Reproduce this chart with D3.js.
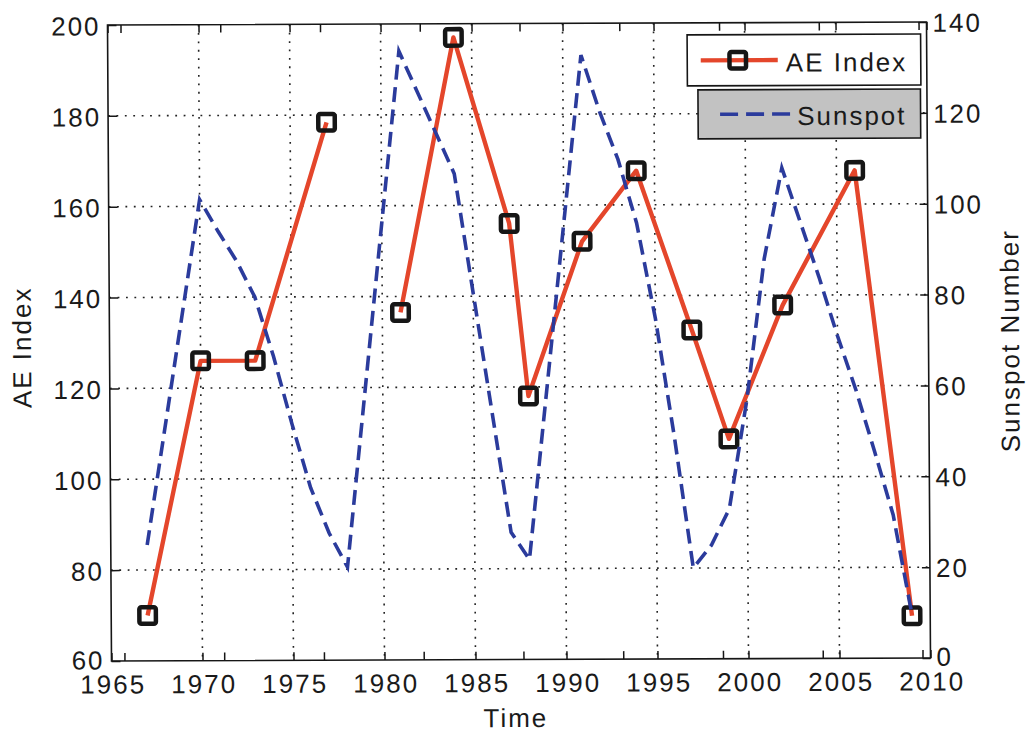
<!DOCTYPE html>
<html>
<head>
<meta charset="utf-8">
<script src="https://cdn.jsdelivr.net/npm/d3@7/dist/d3.min.js"></script>
<style>
  html, body { margin: 0; padding: 0; background: #fff; }
  svg { display: block; }
  text { font-family: "Liberation Sans", Arial, Helvetica, sans-serif; fill: #1a1a1a; }
</style>
</head>
<body>
<svg id="chart" width="1029" height="734"></svg>
<script>
// ---------- data ----------
const aeYears  = [1967, 1970, 1973, 1977, 1979, 1981, 1984, 1987, 1988, 1991, 1994, 1997, 1999, 2002, 2006, 2009];
const aeValues = [70, 126, 126, 178.4, null, 136.5, 197, 156, 118, 152, 167.5, 132.4, 108.4, 137.8, 167.4, 69.3];

const sunspotYears  = [1967, 1970, 1971, 1972, 1973, 1974, 1975, 1976, 1977, 1978, 1981, 1984, 1987, 1988,
                       1991, 1992, 1993, 1994, 1995, 1996, 1997, 1998, 1999, 2000, 2001, 2002,
                       2003, 2004, 2005, 2006, 2007, 2008, 2009];
const sunspotValues = [25.5, 101.5, 94.5, 88, 80, 67, 52, 38, 28, 20.5, 134, 107, 28, 22,
                       133, 120.6, 110, 96, 75, 49, 20, 25, 33, 57, 88, 108,
                       96, 84, 71, 59, 45.5, 31.5, 9.5];

const xTicks        = [1965, 1970, 1975, 1980, 1985, 1990, 1995, 2000, 2005, 2010];
const xGrid         = [1970, 1975, 1980, 1985, 1990, 1995, 2000, 2005];
const aeTicks       = [60, 80, 100, 120, 140, 160, 180, 200];
const yGrid         = [80, 100, 120, 140, 160, 180];
const sunspotTicks  = [0, 20, 40, 60, 80, 100, 120, 140];
// second (sunspot) axes x ticks, drawn as plain tick marks
const sunspotXDomain = [1969.35, 2010.4];
const sunspotXTicks  = [1970, 1975, 1980, 1985, 1990, 1995, 2000, 2005, 2010];

const seriesNames = ["AE Index", "Sunspot"];
const axisTitles  = { x: "Time", yLeft: "AE Index", yRight: "Sunspot Number" };

// ---------- layout ----------
const W = 819, H = 636;
const RED = "#e4462b", BLUE = "#2b3b9c", INK = "#161616";

const svg = d3.select("#chart");
svg.append("rect").attr("width", 1029).attr("height", 734).attr("fill", "#fff");

// slight skew of the scanned figure
const g = svg.append("g").attr("transform", "matrix(1,-0.00366,0.00629,1,107.5,25)");

const x  = d3.scaleLinear().domain([1965, 2010]).range([0, W]);
const x2 = d3.scaleLinear().domain(sunspotXDomain).range([0, W]);
const yL = d3.scaleLinear().domain([60, 200]).range([H, 0]);
const yR = d3.scaleLinear().domain([0, 140]).range([H, 0]);

const FONT = 26, LS = 2;

// grid
const grid = g.append("g").attr("stroke", "#222").attr("stroke-width", 1.6)
  .attr("stroke-dasharray", "1.8,6.6").attr("fill", "none");
grid.selectAll(".gv").data(xGrid).join("line")
  .attr("x1", d => x(d)).attr("x2", d => x(d)).attr("y1", 0).attr("y2", H);
grid.selectAll(".gh").data(yGrid).join("line")
  .attr("y1", d => yL(d)).attr("y2", d => yL(d)).attr("x1", 0).attr("x2", W);

// AE series
const aeData = aeYears.map((yr, i) => ({ x: yr, v: aeValues[i] }));
const aeLine = d3.line().defined(d => d.v != null).x(d => x(d.x)).y(d => yL(d.v));
g.append("path").datum(aeData).attr("d", aeLine)
  .attr("fill", "none").attr("stroke", RED).attr("stroke-width", 4.4)
  .attr("stroke-linejoin", "round");

const MS = 16.5;
g.selectAll(".mk").data(aeData.filter(d => d.v != null)).join("rect")
  .attr("x", d => x(d.x) - MS / 2).attr("y", d => yL(d.v) - MS / 2)
  .attr("width", MS).attr("height", MS).attr("rx", 2)
  .attr("fill", "none").attr("stroke", INK).attr("stroke-width", 4.5);

// Sunspot series
const ssData = sunspotYears.map((yr, i) => ({ x: yr, v: sunspotValues[i] }));
const ssLine = d3.line().x(d => x(d.x)).y(d => yR(d.v));
g.append("path").datum(ssData).attr("d", ssLine)
  .attr("fill", "none").attr("stroke", BLUE).attr("stroke-width", 3.6)
  .attr("stroke-dasharray", "15,7.5");

// axes
function styleAxis(sel) {
  sel.select(".domain").remove();
  sel.selectAll(".tick line").attr("stroke", INK).attr("stroke-width", 1.5);
  sel.attr("font-size", FONT).attr("font-family", null);
  sel.selectAll("text").attr("fill", "#1a1a1a").style("letter-spacing", LS + "px");
}

g.append("g").attr("transform", `translate(0,${H})`)
  .call(d3.axisBottom(x).tickValues(xTicks).tickSize(-8).tickSizeOuter(0).tickPadding(14).tickFormat(d3.format("d")))
  .call(styleAxis)
  .selectAll("text").attr("dx", LS / 2);

g.append("g")
  .call(d3.axisTop(x).tickValues(xTicks).tickSize(-8).tickSizeOuter(0).tickFormat(""))
  .call(styleAxis);

g.append("g").attr("transform", `translate(0,${H})`)
  .call(d3.axisBottom(x2).tickValues(sunspotXTicks).tickSize(-8).tickSizeOuter(0).tickFormat(""))
  .call(styleAxis);
g.append("g")
  .call(d3.axisTop(x2).tickValues(sunspotXTicks).tickSize(-8).tickSizeOuter(0).tickFormat(""))
  .call(styleAxis);

g.append("g")
  .call(d3.axisLeft(yL).tickValues(aeTicks).tickSize(-9).tickSizeOuter(0).tickPadding(7))
  .call(styleAxis)
  .selectAll("text").attr("dy", d => d === 60 ? "0.3em" : "0.38em");

g.append("g").attr("transform", `translate(${W},0)`)
  .call(d3.axisRight(yR).tickValues(sunspotTicks).tickSize(-8).tickSizeOuter(0).tickPadding(6))
  .call(styleAxis)
  .selectAll("text").attr("dy", d => d === 0 ? "0.28em" : "0.36em");

// frame
g.append("rect").attr("x", 0).attr("y", 0).attr("width", W).attr("height", H)
  .attr("fill", "none").attr("stroke", INK).attr("stroke-width", 1.6);

// axis titles
g.append("text").attr("x", 404).attr("y", 703.5).attr("text-anchor", "middle")
  .attr("font-size", FONT).style("letter-spacing", LS + "px").text(axisTitles.x);
g.append("text").attr("transform", "translate(-78.5,322) rotate(-90)").attr("text-anchor", "middle")
  .attr("font-size", FONT).style("letter-spacing", LS + "px").text(axisTitles.yLeft);
g.append("text").attr("transform", `translate(${W + 90.5},319) rotate(-90)`).attr("text-anchor", "middle")
  .attr("font-size", FONT).style("letter-spacing", LS + "px").text(axisTitles.yRight);

// legend
const lg = g.append("g");
lg.append("rect").attr("x", 579.5).attr("y", 12).attr("width", 233.5).attr("height", 51)
  .attr("fill", "#fff").attr("stroke", INK).attr("stroke-width", 1.6);
lg.append("line").attr("x1", 593).attr("x2", 670).attr("y1", 37.5).attr("y2", 37.5)
  .attr("stroke", RED).attr("stroke-width", 4.4);
lg.append("rect").attr("x", 630 - MS / 2).attr("y", 37.5 - MS / 2).attr("width", MS).attr("height", MS)
  .attr("rx", 2).attr("fill", "none").attr("stroke", INK).attr("stroke-width", 4.5);
lg.append("text").attr("x", 678).attr("y", 49).attr("font-size", FONT)
  .style("letter-spacing", LS + "px").text(seriesNames[0]);

lg.append("rect").attr("x", 590).attr("y", 67).attr("width", 222.5).attr("height", 49)
  .attr("fill", "#c2c2c2").attr("stroke", INK).attr("stroke-width", 1.6);
lg.append("line").attr("x1", 612).attr("x2", 682).attr("y1", 91.5).attr("y2", 91.5)
  .attr("stroke", BLUE).attr("stroke-width", 3.6).attr("stroke-dasharray", "18,8");
lg.append("text").attr("x", 689).attr("y", 102.5).attr("font-size", FONT)
  .style("letter-spacing", LS + "px").text(seriesNames[1]);
</script>
</body>
</html>
